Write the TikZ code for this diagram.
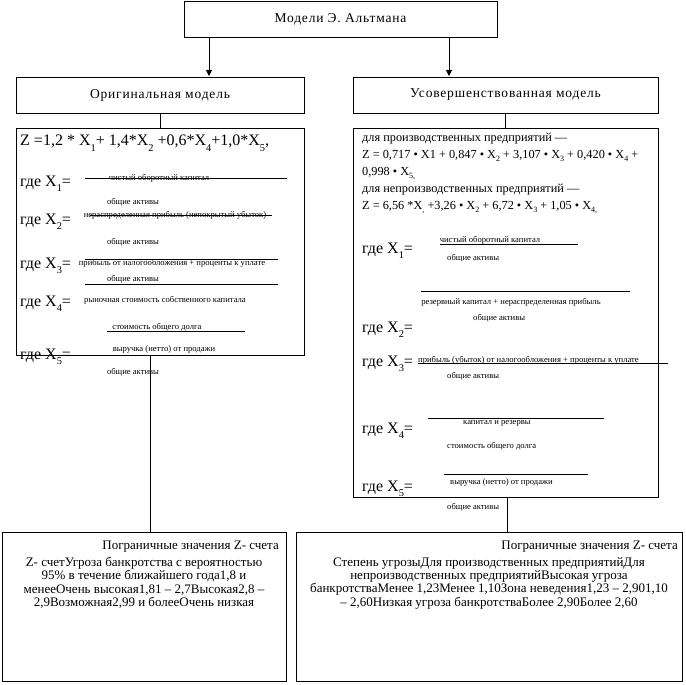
\documentclass[tikz,border=0pt]{standalone}
\usepackage{fontspec}
\setmainfont{Liberation Serif}
\newfontfamily\spc[LetterSpace=6]{Liberation Serif}
\usetikzlibrary{arrows.meta}
\newcommand\sbx[1]{\raisebox{-0.32em}{\scalebox{0.65}{#1}}}
\begin{document}
\begin{tikzpicture}[x=1pt,y=-1pt,
  box/.style={draw, line width=0.8pt, inner sep=0pt, outer sep=0pt},
  ttl/.style={font=\spc\fontsize{13.5}{15}\selectfont},
  bigt/.style={font=\fontsize{16}{18}\selectfont, inner sep=0pt},
  midt/.style={font=\fontsize{12.3}{14}\selectfont, inner sep=0pt},
  smt/.style={font=\fontsize{8.6}{9}\selectfont, inner sep=0pt},
  btxt/.style={font=\fontsize{13}{13.3}\selectfont, inner sep=0pt},
  conn/.style={line width=0.8pt},
  arr/.style={line width=0.8pt, -{Triangle[length=6pt,width=6pt]}},
  frac/.style={line width=0.7pt}]
\useasboundingbox (0,0) rectangle (686,685);

% top and model boxes
\node[box, ttl, minimum width=313pt, minimum height=36pt] (top) at (340.5,19) {Модели Э. Альтмана};
\node[box, ttl, minimum width=288pt, minimum height=36pt] (orig) at (160,95) {Оригинальная модель};
\node[box, ttl, minimum width=305pt, minimum height=36pt] (impr) at (505.5,95) {Усовершенствованная модель};

\coordinate (a1) at (209,76);
\coordinate (a2) at (449,76);
\draw[arr] (top.south -| a1) -- (a1);
\draw[arr] (top.south -| a2) -- (a2);

% formula boxes
\node[box, minimum width=288pt, minimum height=227pt, anchor=north west] (lf) at (16,128) {};
\node[box, minimum width=305pt, minimum height=369pt, anchor=north west] (rf) at (353,128) {};
\draw[conn] (orig.south) -- (lf.north -| orig.south);
\draw[conn] (impr.south) -- (rf.north -| impr.south);

% bottom boxes
\node[box, minimum width=284pt, minimum height=149pt, anchor=north west] (lb) at (2,532) {};
\node[box, minimum width=386pt, minimum height=149pt, anchor=north west] (rb) at (296,532) {};
\coordinate (c1) at (150,0);
\coordinate (c2) at (507,0);
\draw[conn] (lf.south -| c1) -- (lb.north -| c1);
\draw[conn] (rf.south -| c2) -- (rb.north -| c2);

% ---- left formula box contents
\node[bigt, anchor=base west] (lz) at (20,146) {Z =1,2 * X\sbx{1}+ 1,4*X\sbx{2} +0,6*X\sbx{4}+1,0*X\sbx{5},};

\node[bigt, anchor=base west] (lg1) at (20,186) {где X\sbx{1}=};
\node[smt, anchor=base] (ln1) at (159,180) {чистый оборотный капитал};
\draw[frac] (85,178) -- (287,178);
\node[smt, anchor=base] (ld1) at (133,204) {общие активы};

\node[bigt, anchor=base west] (lg2) at (20,224) {где X\sbx{2}=};
\node[smt, anchor=base] (ln2) at (175,217) {нераспределенная прибыль (непокрытый убыток)};
\draw[frac] (90,215) -- (272,215);
\node[smt, anchor=base] (ld2) at (133,244) {общие активы};

\node[bigt, anchor=base west] (lg3) at (20,268) {где X\sbx{3}=};
\node[smt, anchor=base] (ln3) at (172,265) {прибыль от налогообложения + проценты к уплате};
\draw[frac] (85,259) -- (278,259);
\node[smt, anchor=base] (ld3) at (133,281) {общие активы};
\draw[frac] (85,284) -- (278,284);

\node[bigt, anchor=base west] (lg4) at (20,306) {где X\sbx{4}=};
\node[smt, anchor=base] (ln4) at (165,302) {рыночная стоимость собственного капитала};
\node[smt, anchor=base] (ld4) at (157,329) {стоимость общего долга};
\draw[frac] (107,331) -- (245,331);

\node[bigt, anchor=base west] (lg5) at (20,359) {где X\sbx{5}=};
\node[smt, anchor=base] (ln5) at (164,351) {выручка (нетто) от продажи};
\node[smt, anchor=base] (ld5) at (133,374) {общие активы};

% ---- right formula box contents
\node[midt, anchor=base west] (r1) at (362,141) {для производственных предприятий —};
\node[midt, anchor=base west] (r2) at (362,158) {Z = 0,717 • X1 + 0,847 • X\sbx{2} + 3,107 • X\sbx{3} + 0,420 • X\sbx{4} +};
\node[midt, anchor=base west] (r3) at (362,175) {0,998 • X\sbx{5,}};
\node[midt, anchor=base west] (r4) at (362,192) {для непроизводственных предприятий —};
\node[midt, anchor=base west] (r5) at (362,209) {Z = 6,56 *X\sbx{,} +3,26 • X\sbx{2} + 6,72 • X\sbx{3} + 1,05 • X\sbx{4,}};

\node[bigt, anchor=base west] (rg1) at (362,253) {где X\sbx{1}=};
\node[smt, anchor=base] (rn1) at (490,242) {чистый оборотный капитал};
\draw[frac] (440,244) -- (578,244);
\node[smt, anchor=base west] (rd1) at (447,260) {общие активы};

\draw[frac] (421,291) -- (630,291);
\node[smt, anchor=base] (rn2) at (511,304) {резервный капитал + нераспределенная прибыль};
\node[smt, anchor=base west] (rd2) at (473,320) {общие активы};
\node[bigt, anchor=base west] (rg2) at (362,332) {где X\sbx{2}=};

\node[bigt, anchor=base west] (rg3) at (362,366) {где X\sbx{3}=};
\node[smt, anchor=base west] (rn3) at (418,362) {прибыль (убыток) от налогообложения + проценты к уплате};
\draw[frac] (418,363) -- (668,363);
\node[smt, anchor=base west] (rd3) at (447,378) {общие активы};

\draw[frac] (428,418) -- (604,418);
\node[smt, anchor=base west] (rn4) at (463,424) {капитал и резервы};
\node[bigt, anchor=base west] (rg4) at (362,433) {где X\sbx{4}=};
\node[smt, anchor=base west] (rd4) at (447,448) {стоимость общего долга};

\draw[frac] (444,474) -- (588,474);
\node[smt, anchor=base west] (rn5) at (450,484) {выручка (нетто) от продажи};
\node[bigt, anchor=base west] (rg5) at (362,491) {где X\sbx{5}=};
\node[smt, anchor=base west] (rd5) at (447,509) {общие активы};

% ---- bottom boxes contents
\node[btxt, anchor=base east] (lh) at (279,549) {Пограничные значения Z- счета};
\node[btxt, align=center, anchor=north] (lt) at (144,557) {Z- счетУгроза банкротства с вероятностью\\95\% в течение ближайшего года1,8 и\\менееОчень высокая1,81 – 2,7Высокая2,8 –\\2,9Возможная2,99 и болееОчень низкая};

\node[btxt, anchor=base east] (rh) at (678,549) {Пограничные значения Z- счета};
\node[btxt, align=center, anchor=north] (rt) at (489,557) {Степень угрозыДля производственных предприятийДля\\непроизводственных предприятийВысокая угроза\\банкротстваМенее 1,23Менее 1,10Зона неведения1,23 – 2,901,10\\– 2,60Низкая угроза банкротстваБолее 2,90Более 2,60};
\end{tikzpicture}
\end{document}
